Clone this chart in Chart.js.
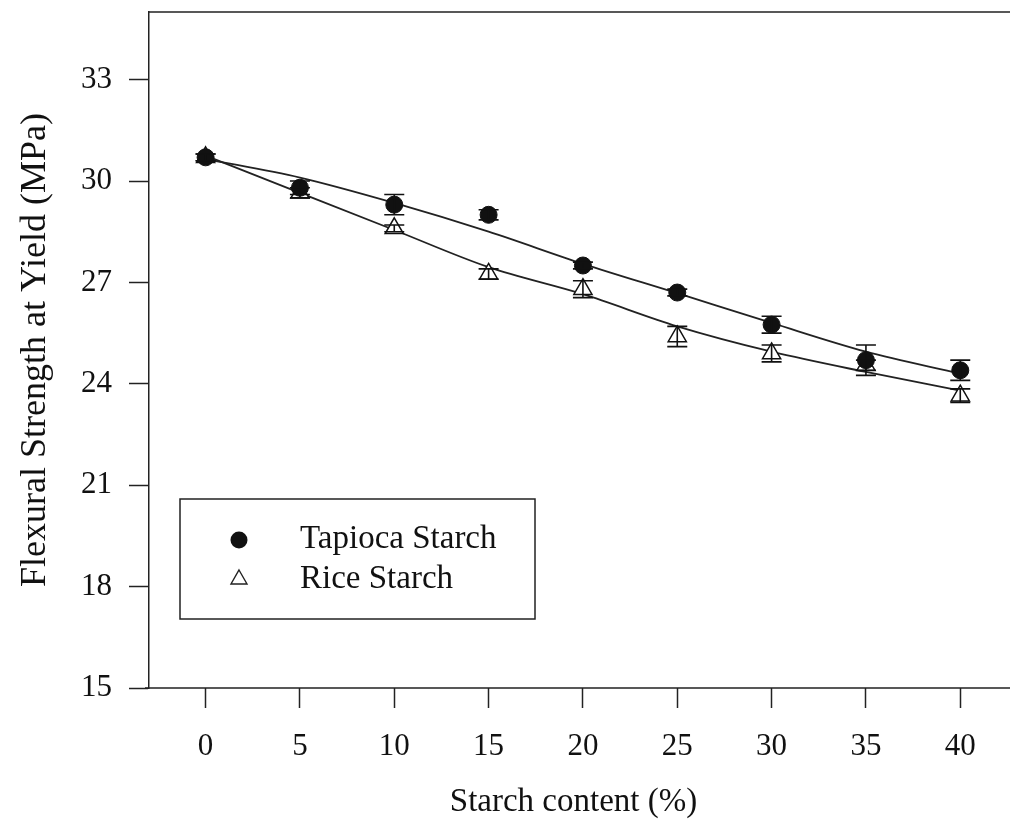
<!DOCTYPE html>
<html>
<head>
<meta charset="utf-8">
<script src="https://cdn.jsdelivr.net/npm/chart.js@4.4.1/dist/chart.umd.min.js"></script>
<style>
  html, body { margin: 0; padding: 0; background: #fff; overflow: hidden; }
  #wrap { width: 1010px; height: 828px; }
  canvas { display: block; }
</style>
</head>
<body>
<div id="wrap"><canvas id="chart" width="1010" height="828"></canvas></div>
<script>
// values
const starchContent = [0, 5, 10, 15, 20, 25, 30, 35, 40];
const tapiocaMean = [30.7, 29.8, 29.3, 29.0, 27.5, 26.7, 25.75, 24.7, 24.4];
const tapiocaErr  = [0.1, 0.2, 0.3, 0.15, 0.1, 0.1, 0.25, 0.45, 0.3];
const riceMean    = [30.7, 29.65, 28.6, 27.25, 26.8, 25.4, 24.9, 24.55, 23.65];
const riceErr     = [0.1, 0.15, 0.1, 0.15, 0.25, 0.3, 0.25, 0.15, 0.2];
// fitted curves
const tapiocaFit  = [30.65, 30.1, 29.35, 28.5, 27.55, 26.68, 25.8, 24.95, 24.3];
const riceFit     = [30.75, 29.65, 28.55, 27.45, 26.65, 25.7, 24.95, 24.35, 23.8];

const xTicks = [0, 5, 10, 15, 20, 25, 30, 35, 40];
const yTicks = [15, 18, 21, 24, 27, 30, 33];

const seriesNames = ['Tapioca Starch', 'Rice Starch'];

const serif = '"Liberation Serif", "Times New Roman", serif';

function toPoints(ys) {
    return starchContent.map((x, i) => ({ x: x, y: ys[i] }));
}

// error bars, drawn on top of the markers
const errorBars = {
    id: 'errorBars',
    afterDatasetsDraw(chart) {
        const ctx = chart.ctx;
        const xs = chart.scales.x, ys = chart.scales.y;
        const sets = [[tapiocaMean, tapiocaErr], [riceMean, riceErr]];
        ctx.save();
        ctx.strokeStyle = '#111';
        ctx.lineWidth = 1.6;
        sets.forEach(([mean, err]) => {
            starchContent.forEach((x, i) => {
                const px = xs.getPixelForValue(x);
                const hi = ys.getPixelForValue(mean[i] + err[i]);
                const lo = ys.getPixelForValue(mean[i] - err[i]);
                ctx.beginPath();
                ctx.moveTo(px, hi); ctx.lineTo(px, lo);
                ctx.moveTo(px - 10, hi); ctx.lineTo(px + 10, hi);
                ctx.moveTo(px - 10, lo); ctx.lineTo(px + 10, lo);
                ctx.stroke();
            });
        });
        ctx.restore();
    }
};

// frame lines running off the right edge, and the boxed legend
const frameAndLegend = {
    id: 'frameAndLegend',
    afterDraw(chart) {
        const ctx = chart.ctx;
        const area = chart.chartArea;
        ctx.save();
        ctx.strokeStyle = '#222';
        ctx.lineWidth = 1.5;
        ctx.beginPath();
        ctx.moveTo(area.left, area.top);
        ctx.lineTo(chart.width, area.top);
        ctx.moveTo(area.left - 4, area.bottom);
        ctx.lineTo(chart.width, area.bottom);
        ctx.stroke();

        const bx = area.left + 31, by = area.top + 487, bw = 355, bh = 120;
        ctx.lineWidth = 1.5;
        ctx.strokeRect(bx, by, bw, bh);

        // markers
        ctx.fillStyle = '#111';
        ctx.beginPath();
        ctx.arc(bx + 59, by + 41, 8.5, 0, Math.PI * 2);
        ctx.fill();

        const tx = bx + 59, ty = by + 79;
        ctx.fillStyle = '#fff';
        ctx.lineWidth = 1.4;
        ctx.beginPath();
        ctx.moveTo(tx, ty - 8);
        ctx.lineTo(tx + 8, ty + 6);
        ctx.lineTo(tx - 8, ty + 6);
        ctx.closePath();
        ctx.fill();
        ctx.stroke();

        ctx.fillStyle = '#111';
        ctx.font = '33px ' + serif;
        ctx.textAlign = 'left';
        ctx.textBaseline = 'middle';
        ctx.fillText(seriesNames[0], bx + 120, by + 40);
        ctx.fillText(seriesNames[1], bx + 120, by + 80);
        ctx.restore();
    }
};

const chart = new Chart(document.getElementById('chart'), {
    type: 'scatter',
    data: {
        datasets: [{
            label: seriesNames[0],
            data: toPoints(tapiocaMean),
            pointStyle: 'circle',
            pointRadius: 8.5,
            backgroundColor: '#111',
            borderColor: '#111',
            borderWidth: 1,
            order: 1,
        }, {
            label: seriesNames[1],
            data: toPoints(riceMean),
            pointStyle: 'triangle',
            pointRadius: 10.5,
            backgroundColor: '#fff',
            borderColor: '#111',
            borderWidth: 1.5,
            order: 1,
        }, {
            label: 'Tapioca fit',
            data: toPoints(tapiocaFit),
            showLine: true,
            pointRadius: 0,
            borderColor: '#222',
            borderWidth: 1.8,
            cubicInterpolationMode: 'monotone',
            order: 2,
        }, {
            label: 'Rice fit',
            data: toPoints(riceFit),
            showLine: true,
            pointRadius: 0,
            borderColor: '#222',
            borderWidth: 1.8,
            cubicInterpolationMode: 'monotone',
            order: 2,
        }]
    },
    options: {
        responsive: false,
        animation: false,
        devicePixelRatio: 1,
        layout: { padding: { top: 12, right: 0, left: 0, bottom: 0 } },
        plugins: {
            legend: { display: false },
            tooltip: { enabled: false },
        },
        scales: {
            x: {
                type: 'linear',
                min: -3,
                max: 42,
                afterBuildTicks: (scale) => { scale.ticks = xTicks.map(v => ({ value: v })); },
                afterFit: (scale) => {
                    scale.height = 140;
                    scale.paddingLeft = 0;
                    scale.paddingRight = 0;
                },
                grid: { drawOnChartArea: false, drawTicks: true, tickLength: 20, tickColor: '#222', tickWidth: 1.5 },
                border: { display: false },
                ticks: { color: '#111', font: { family: serif, size: 31 }, padding: 20, maxRotation: 0 },
                title: {
                    display: true,
                    text: 'Starch content (%)',
                    color: '#111',
                    font: { family: serif, size: 33 },
                    padding: { top: 0, bottom: 6 },
                },
            },
            y: {
                type: 'linear',
                min: 15,
                max: 35,
                afterBuildTicks: (scale) => { scale.ticks = yTicks.map(v => ({ value: v })); },
                afterFit: (scale) => {
                    scale.width = 149;
                    scale.paddingTop = 0;
                    scale.paddingBottom = 0;
                },
                grid: { drawOnChartArea: false, drawTicks: true, tickLength: 20, tickColor: '#222', tickWidth: 1.5 },
                border: { display: true, color: '#222', width: 1.5 },
                ticks: { color: '#111', font: { family: serif, size: 31 }, padding: 17 },
                title: {
                    display: true,
                    text: 'Flexural Strength at Yield (MPa)',
                    color: '#111',
                    font: { family: serif, size: 36 },
                    padding: { top: 14, bottom: 0 },
                },
            }
        }
    },
    plugins: [errorBars, frameAndLegend]
});
</script>
</body>
</html>
